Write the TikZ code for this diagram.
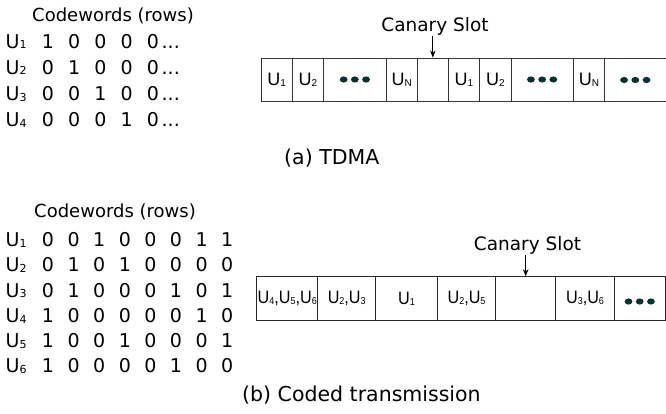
\documentclass[tikz,border=0pt]{standalone}
\usepackage{fontspec}
\setmainfont{DejaVu Sans}
\newfontfamily\boxfontA{Liberation Sans}
\newfontfamily\boxfontB[FakeStretch=0.9]{Liberation Sans}
\usetikzlibrary{arrows.meta}
\definecolor{dotc}{RGB}{12,48,48}
\newcommand{\Um}[1]{U\raisebox{-0.6pt}{\fontsize{11}{12}\selectfont #1}}
\newcommand{\Ub}[1]{U\raisebox{-0.8pt}{\fontsize{10}{11}\selectfont #1}}
\tikzset{
  txt/.style={inner sep=0pt, font=\fontsize{19}{22}\selectfont},
  lbl/.style={inner sep=0pt, font=\fontsize{18}{21}\selectfont},
  captxt/.style={inner sep=0pt, font=\fontsize{20.5}{24}\selectfont},
  slotA/.style={draw=black!80, line width=0.9pt, minimum height=43pt, inner sep=0pt,
    font=\boxfontA\fontsize{18}{20}\selectfont},
  slotB/.style={draw=black!85, line width=0.9pt, minimum height=44pt, inner sep=0pt,
    font=\boxfontB\fontsize{18}{20}\selectfont},
  canarr/.style={-{Stealth[length=7pt,width=5.5pt]}, line width=0.8pt},
}
\newcommand{\threedots}[1]{%
  \foreach \d in {-11.2,0,11.2}
    \fill[dotc] ([xshift=\d pt]#1) ellipse (3.9pt and 3.1pt);}
\begin{document}
\begin{tikzpicture}[x=1pt,y=-1pt]
\useasboundingbox (0,0) rectangle (666,414);
% ---------- (a) TDMA ----------
\node[lbl, anchor=base] (cwA) at (113,21.7) {Codewords (rows)};
\foreach \row [count=\i] in {{1,0,0,0,0},{0,1,0,0,0},{0,0,1,0,0},{0,0,0,1,0}}{
  \pgfmathsetmacro{\yy}{48.3+26.1*(\i-1)}
  \node[txt, anchor=base west] (ua-\i) at (5.5,\yy) {\Um{\i}};
  \foreach \b [count=\j] in \row {
    \node[txt, anchor=base] (da-\i-\j) at ({48+26.2*(\j-1)},\yy) {\b};
  }
  \node[txt, anchor=base west] (ea-\i) at (161.5,\yy) {...};
}
\node[slotA, minimum width=31.3pt] (a1) at (276.65,79.5) {\Ub{1}};
\node[slotA, minimum width=31.4pt] (a2) at (308,79.5) {\Ub{2}};
\node[slotA, minimum width=62.3pt] (a3) at (354.85,79.5) {};
\node[slotA, minimum width=31.3pt] (a4) at (401.65,79.5) {\Ub{N}};
\node[slotA, minimum width=31pt]   (a5) at (432.8,79.5) {};
\node[slotA, minimum width=31.4pt] (a6) at (464,79.5) {\Ub{1}};
\node[slotA, minimum width=31.3pt] (a7) at (495.35,79.5) {\Ub{2}};
\node[slotA, minimum width=62.3pt] (a8) at (542.15,79.5) {};
\node[slotA, minimum width=31.4pt] (a9) at (589,79.5) {\Ub{N}};
\node[slotA, minimum width=65pt]   (a10) at (637.2,79.5) {};
\threedots{a3.center}
\threedots{a8.center}
\threedots{635.3,80}
\node[lbl, anchor=base, font=\fontsize{18.5}{21}\selectfont] (canA) at (435,32) {Canary Slot};
\draw[canarr] (a5.north |- canA.south) -- (a5.north);
\node[captxt, anchor=base west] (capA) at (284,165) {(a) TDMA};
% ---------- (b) Coded transmission ----------
\node[lbl, anchor=base] (cwB) at (115,217) {Codewords (rows)};
\foreach \row [count=\i] in {{0,0,1,0,0,0,1,1},{0,1,0,1,0,0,0,0},{0,1,0,0,0,1,0,1},{1,0,0,0,0,0,1,0},{1,0,0,1,0,0,0,1},{1,0,0,0,0,1,0,0}}{
  \pgfmathsetmacro{\yy}{246.7+25.25*(\i-1)}
  \node[txt, anchor=base west] (ub-\i) at (5.5,\yy) {\Um{\i}};
  \foreach \b [count=\j] in \row {
    \node[txt, anchor=base] (db-\i-\j) at ({48+25.6*(\j-1)},\yy) {\b};
  }
}
\node[slotB, minimum width=61pt]   (b1) at (287.2,298.7) {\Ub{4},\Ub{5},\Ub{6}};
\node[slotB, minimum width=58pt]   (b2) at (346.7,298.7) {\Ub{2},\Ub{3}};
\node[slotB, minimum width=61.6pt] (b3) at (406.5,298.7) {\Ub{1}};
\node[slotB, minimum width=58.4pt] (b4) at (466.5,298.7) {\Ub{2},\Ub{5}};
\node[slotB, minimum width=60pt]   (b5) at (525.7,298.7) {};
\node[slotB, minimum width=58.6pt] (b6) at (585,298.7) {\Ub{3},\Ub{6}};
\node[slotB, minimum width=50.7pt] (b7) at (639.65,298.7) {};
\threedots{639.7,301.5}
\node[lbl, anchor=base, font=\fontsize{18.5}{21}\selectfont] (canB) at (527.5,250.5) {Canary Slot};
\draw[canarr] (b5.north |- canB.south) -- (b5.north);
\node[captxt, anchor=base west] (capB) at (242,401.7) {(b) Coded transmission};
\end{tikzpicture}
\end{document}
